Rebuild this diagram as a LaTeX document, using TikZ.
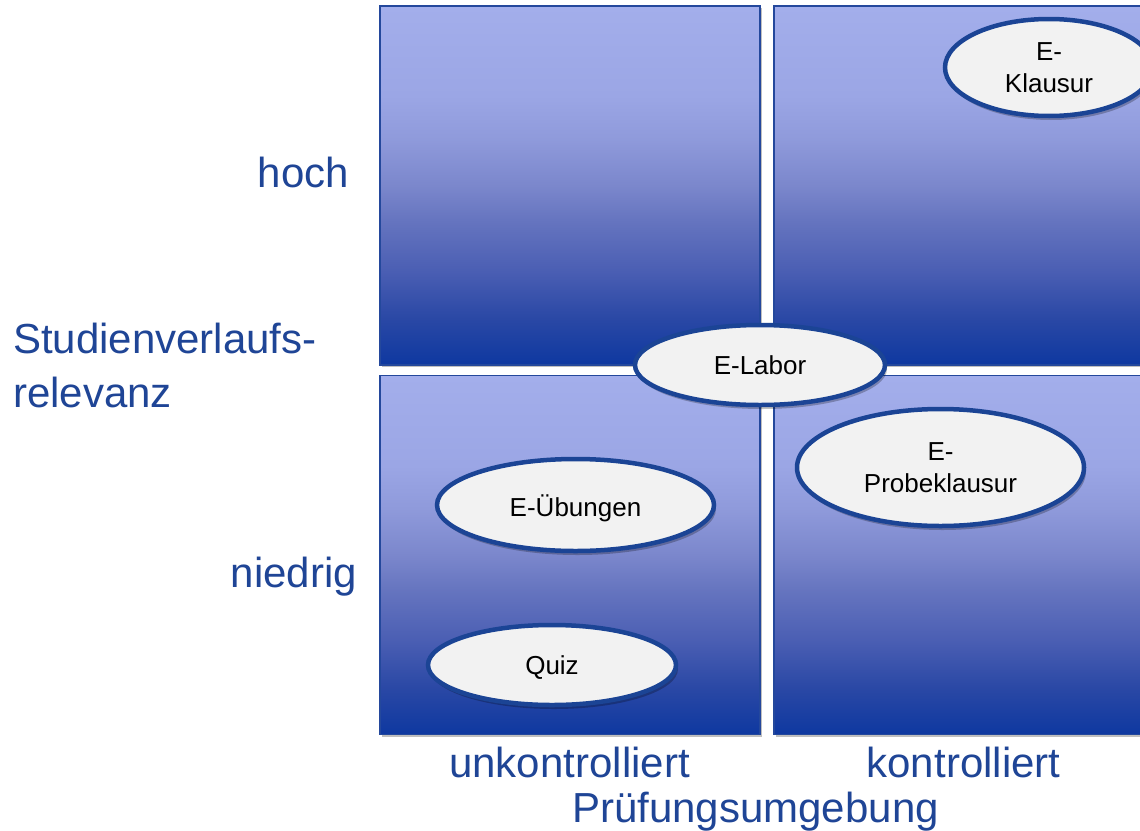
\documentclass[tikz,border=0pt]{standalone}
\usepackage{fontspec}
\setmainfont{Liberation Sans}
\usetikzlibrary{shapes.geometric,shadows}

% quadrant gradient, light at the top, deep blue at the bottom
\definecolor{qa}{HTML}{A3AEEB}
\definecolor{qb}{HTML}{9BA6E5}
\definecolor{qc}{HTML}{8F9ADB}
\definecolor{qd}{HTML}{7B87CC}
\definecolor{qe}{HTML}{6574BF}
\definecolor{qf}{HTML}{4A5EB3}
\definecolor{qg}{HTML}{2A48A5}
\definecolor{qh}{HTML}{0E38A0}
\definecolor{qedge}{HTML}{24489C}
\definecolor{bubblefill}{HTML}{F2F2F2}
\definecolor{bubbleedge}{HTML}{1B4495}
\definecolor{labelblue}{HTML}{1F4596}

\pgfdeclareverticalshading{quadshade}{100bp}{%
  color(0bp)=(qh); color(25bp)=(qh); color(31.5bp)=(qg); color(38bp)=(qf);
  color(45bp)=(qe); color(50bp)=(qd); color(56.5bp)=(qc); color(62.5bp)=(qb);
  color(75bp)=(qa); color(100bp)=(qa)}

\begin{document}
\begin{tikzpicture}[x=1pt,y=-1pt,
  quad/.style={rectangle, draw=qedge, line width=1.2pt, shading=quadshade,
    minimum width=380pt, minimum height=359pt, inner sep=0pt,
    drop shadow={shadow xshift=2pt, shadow yshift=-2pt, opacity=0.25, fill=black}},
  bubble/.style={ellipse, draw=bubbleedge, line width=4.5pt, fill=bubblefill,
    inner sep=0pt, align=center, text=black,
    font=\fontsize{26}{31.5}\selectfont,
    drop shadow={shadow xshift=2pt, shadow yshift=-4pt, opacity=0.25, fill=black}},
  oneline/.style={text height=18.6pt, text depth=0pt},
  axislabel/.style={text=labelblue, inner sep=0pt,
    font=\fontsize{42}{53.7}\selectfont}]

\useasboundingbox (0,0) rectangle (1140,830);
\fill[white] (0,0) rectangle (1140,830);

% the four quadrants
\node[quad] (hu) at (570,185.5) {};
\node[quad] (hk) at (964,185.5) {};
\node[quad] (nu) at (570,555) {};
\node[quad] (nk) at (964,555) {};

% assessment formats
\node[bubble, minimum width=208pt, minimum height=97pt] (klausur) at (1049,67.5) {E-\\Klausur};
\node[bubble, minimum width=287pt, minimum height=117pt] (probe) at (940.5,467.5) {E-\\Probeklausur};
\node[bubble, text height=23pt, text depth=0pt, minimum width=277pt, minimum height=92pt] (uebung) at (575.5,505) {E-Übungen};
\node[bubble, oneline, minimum width=248pt, minimum height=80pt] (quiz) at (552,665) {Quiz};
\node[bubble, oneline, minimum width=250pt, minimum height=80pt] (labor) at (760,365) {E-Labor};

% axis labels
\node[axislabel, anchor=base east] (hoch) at (349,187) {hoch};
\node[axislabel, anchor=base east] (niedrig) at (357,587) {niedrig};
\node[axislabel, anchor=base west, align=left] (relevanz) at (13,407) {Studienverlaufs-\\relevanz};
\node[axislabel, anchor=base] (unkontrolliert) at (569.5,777) {unkontrolliert};
\node[axislabel, anchor=base] (kontrolliert) at (963.5,777) {kontrolliert};
\node[axislabel, anchor=base] (umgebung) at (755.5,822) {Prüfungsumgebung};
\end{tikzpicture}
\end{document}
